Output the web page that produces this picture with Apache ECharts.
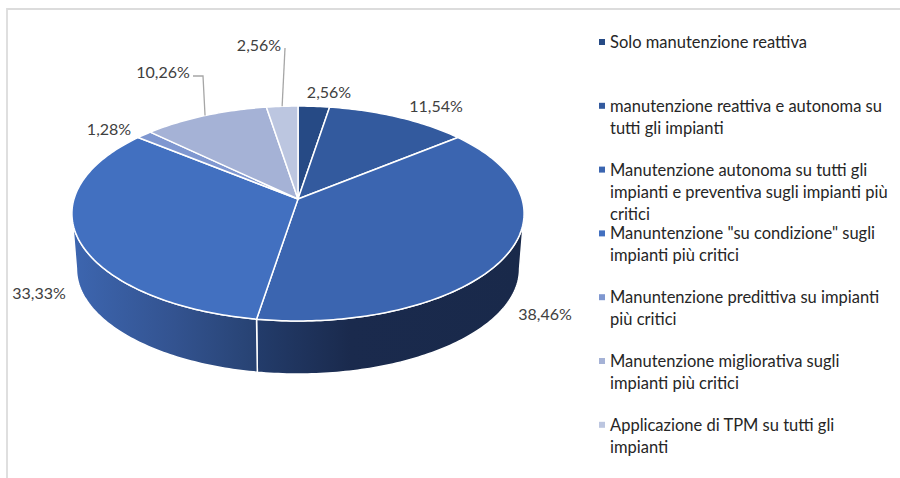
<!DOCTYPE html>
<html>
<head>
<meta charset="utf-8">
<style>html,body{margin:0;padding:0;background:#fff}#chart{width:900px;height:478px}</style>
<script src="https://cdn.jsdelivr.net/npm/echarts@6/dist/echarts.min.js"></script>
</head>
<body>
<div id="chart"></div>
<script>
const categories = [
  'Solo manutenzione reattiva',
  'manutenzione reattiva e autonoma su\ntutti gli impianti',
  'Manutenzione autonoma su tutti gli\nimpianti e preventiva sugli impianti più\ncritici',
  'Manuntenzione "su condizione" sugli\nimpianti più critici',
  'Manuntenzione predittiva su impianti\npiù critici',
  'Manutenzione migliorativa sugli\nimpianti più critici',
  'Applicazione di TPM su tutti gli\nimpianti'
];
const values = [2.56, 11.54, 38.46, 33.33, 1.28, 10.26, 2.56];
const colors = ['#264a85', '#335a9e', '#3b65b0', '#4270c0', '#7f97d0', '#a5b2d6', '#bcc6e0'];

// wall shading, only the two front slices show a wall
const wallStops = {
  2: [[0, '#233c6b'], [0.35, '#1a2a4d'], [1, '#19294a']],
  3: [[0, '#3d66b0'], [0.55, '#335390'], [1, '#274272']]
};
// label centres, left to right is not the slice order
const labelPos = [[329, 91], [436, 105], [545, 313], [39, 292], [109, 128], [163, 71], [259, 44]];
const leaderFrom = { 5: [[193, 76], [203, 76]], 6: [[285, 48]] };

// tilted disc: perspective projection of a unit circle
const cx = 298, topY = 199, rx = 224, ry = 105.5, persp = 0.135;
const depthY = 55.5, depthScale = 0.98;
const legendX = 599, legendY = 42, legendStep = 63.8;

const total = values.reduce((a, b) => a + b, 0);
const startOf = i => values.slice(0, i).reduce((a, b) => a + b, 0) / total * Math.PI * 2;

function rim(a, bottom) {
  const u = Math.sin(a), v = Math.cos(a), d = 1 + persp * v;
  const s = bottom ? depthScale : 1;
  return [cx + s * rx * u / d, topY + (bottom ? depthY : 0) - s * ry * v / d];
}
function arc(a0, a1, bottom) {
  const n = Math.max(2, Math.ceil(Math.abs(a1 - a0) * 60));
  const pts = [];
  for (let k = 0; k <= n; k++) pts.push(rim(a0 + (a1 - a0) * k / n, bottom));
  return pts;
}

function renderItem(params, api) {
  const i = params.dataIndex;
  const a0 = startOf(i), a1 = startOf(i + 1);
  const children = [];

  // the wall is visible only between the two silhouette angles
  const wall0 = Math.acos(-persp), wall1 = Math.PI * 2 - wall0;
  const w0 = Math.max(a0, wall0), w1 = Math.min(a1, wall1);
  if (w1 > w0) {
    children.push({
      type: 'polygon',
      shape: { points: arc(w0, w1, false).concat(arc(w1, w0, true)) },
      style: {
        fill: new echarts.graphic.LinearGradient(0, 0, 1, 0,
          wallStops[i].map(s => ({ offset: s[0], color: s[1] }))),
        stroke: '#fff', lineWidth: 1.5
      }
    });
  }

  // top face
  children.push({
    type: 'polygon',
    shape: { points: [[cx, topY]].concat(arc(a0, a1, false)) },
    style: { fill: colors[i], stroke: '#fff', lineWidth: 1.5, lineJoin: 'round' }
  });

  // leader line
  if (leaderFrom[i]) {
    children.push({
      type: 'polyline',
      shape: { points: leaderFrom[i].concat([rim((a0 + a1) / 2, false)]) },
      style: { fill: null, stroke: '#a6a6a6', lineWidth: 1.3 }
    });
  }

  // value label
  children.push({
    type: 'text',
    x: labelPos[i][0], y: labelPos[i][1],
    style: {
      text: api.value(0).toFixed(2).replace('.', ',') + '%',
      font: '16px Lato', fill: '#404040', align: 'center', verticalAlign: 'middle'
    }
  });

  // legend row
  const ly = legendY + legendStep * i;
  children.push({
    type: 'rect',
    shape: { x: legendX, y: ly - 3, width: 6, height: 6 },
    style: { fill: colors[i] }
  });
  children.push({
    type: 'text',
    x: legendX + 11, y: ly - 11,
    style: {
      text: categories[i], font: '16.5px Lato', fill: '#262626',
      lineHeight: 22, align: 'left', verticalAlign: 'top'
    }
  });
  return { type: 'group', children: children };
}

const chart = echarts.init(document.getElementById('chart'), null, { renderer: 'svg' });
chart.setOption({
  animation: false,
  backgroundColor: '#fff',
  graphic: [{
    type: 'polyline',
    shape: { points: [[7, 478], [7, 9], [900, 9]] },
    style: { fill: null, stroke: '#dcdcdc', lineWidth: 1.8 }
  }],
  series: [{
    type: 'custom',
    coordinateSystem: 'none',
    renderItem: renderItem,
    data: values.map((v, i) => ({ name: categories[i], value: [v] }))
  }]
});
</script>
</body>
</html>
